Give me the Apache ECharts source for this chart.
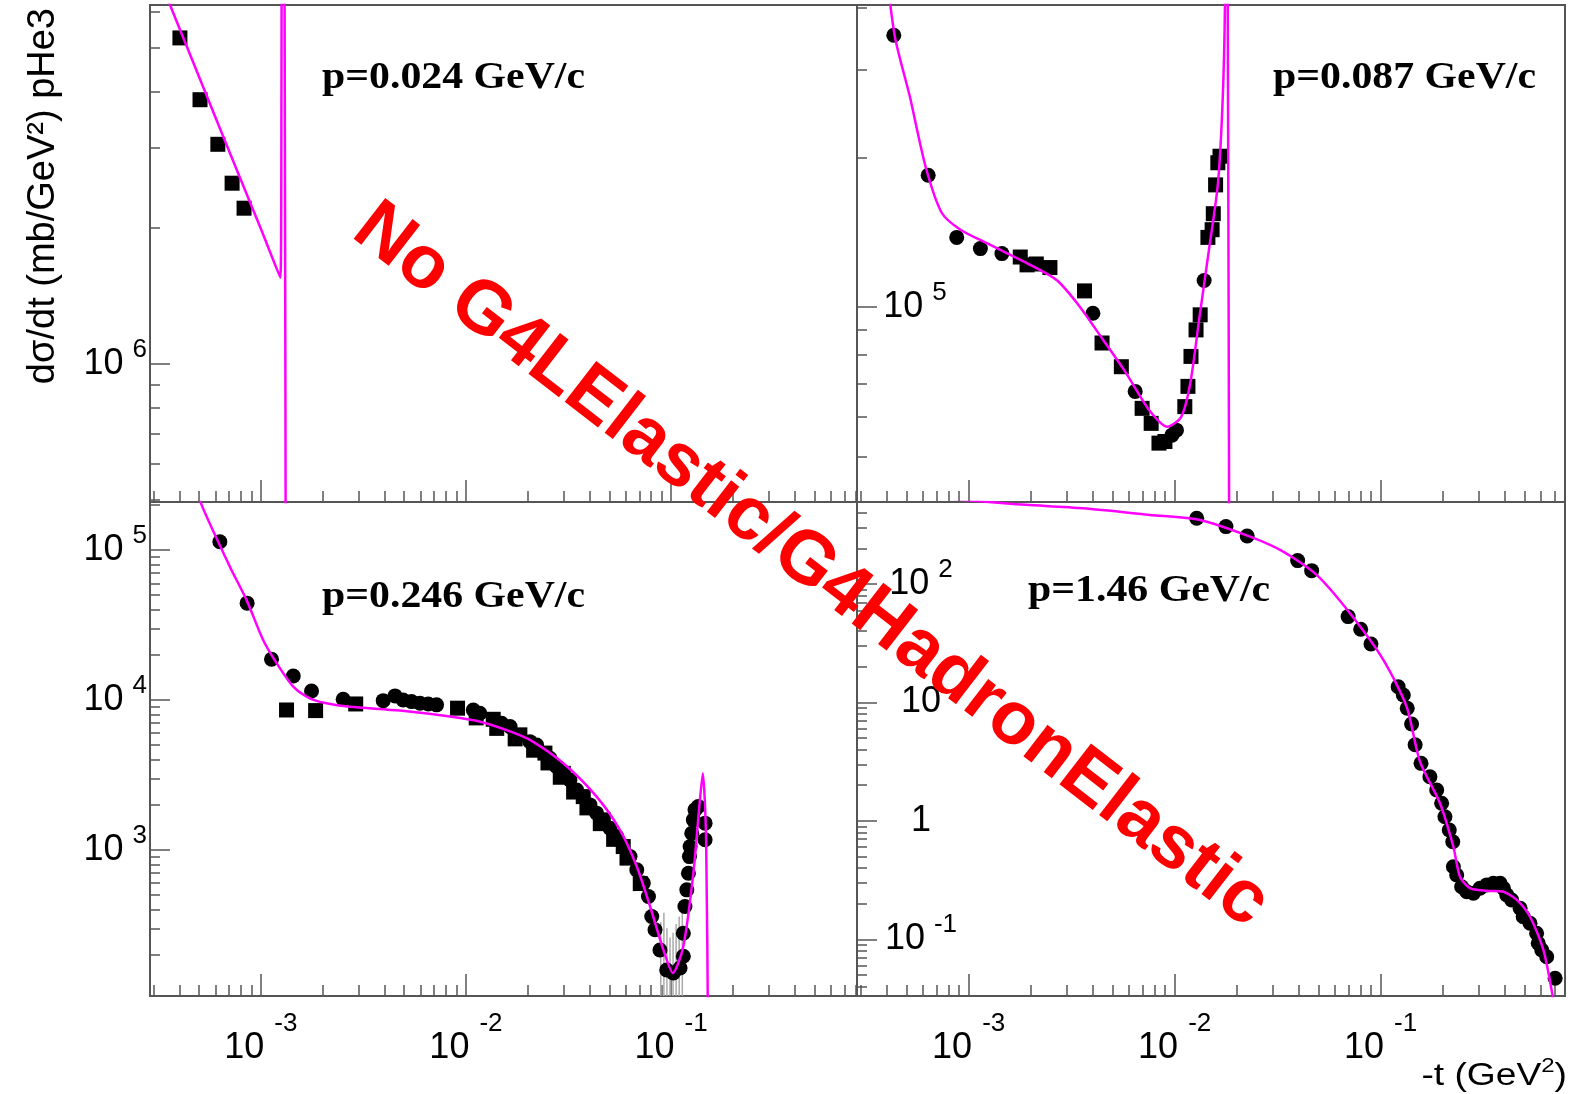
<!DOCTYPE html>
<html><head><meta charset="utf-8">
<script src="https://cdn.jsdelivr.net/npm/echarts@6/dist/echarts.min.js"></script>
<style>html,body{margin:0;padding:0;background:#fff}#c{width:1571px;height:1094px}</style>
</head><body><div id="c"></div>
<script>
// ---------- axis ranges ----------
const xRangeLeft = [2.88e-4, 0.807];
const xRangeRight = [2.87e-4, 0.785];
const yRangeTL = [4.95e5, 6.22e6];
const yRangeTR = [4.05e4, 4.05e5];
const yRangeBL = [106, 2.09e5];
const yRangeBR = [0.0332, 493];

// ---------- tick values ----------
const xMajorTicks = [1e-3, 1e-2, 1e-1];
const xMinorTicks = [3e-4,4e-4,5e-4,6e-4,7e-4,8e-4,9e-4,
  2e-3,3e-3,4e-3,5e-3,6e-3,7e-3,8e-3,9e-3,
  2e-2,3e-2,4e-2,5e-2,6e-2,7e-2,8e-2,9e-2,
  0.2,0.3,0.4,0.5,0.6,0.7,0.8];
const yMajorTL = [1e6];
const yMinorTL = [5e5,6e5,7e5,8e5,9e5,2e6,3e6,4e6,5e6,6e6];
const yMajorTR = [1e5];
const yMinorTR = [5e4,6e4,7e4,8e4,9e4,2e5,3e5,4e5];
const yMajorBL = [1e3, 1e4, 1e5];
const yMinorBL = [200,300,400,500,600,700,800,900,2e3,3e3,4e3,5e3,6e3,7e3,8e3,9e3,2e4,3e4,4e4,5e4,6e4,7e4,8e4,9e4,2e5];
const yMajorBR = [0.1, 1, 10, 100];
const yMinorBR = [0.04,0.05,0.06,0.07,0.08,0.09,0.2,0.3,0.4,0.5,0.6,0.7,0.8,0.9,2,3,4,5,6,7,8,9,20,30,40,50,60,70,80,90,200,300,400];

// ---------- panel labels ----------
const panelLabels = ['p=0.024 GeV/c', 'p=0.087 GeV/c', 'p=0.246 GeV/c', 'p=1.46 GeV/c'];

// ---------- p = 0.024 GeV/c ----------
const tlSquares = [[4.03e-4,5.26e6],[5.05e-4,3.84e6],[6.17e-4,3.06e6],[7.24e-4,2.51e6],[8.28e-4,2.21e6]];
const tlCurve = [[2.82e-4,8.2e6],[3.98e-4,5.57e6],[5.62e-4,3.78e6],[7.94e-4,2.57e6],[1.0e-3,1.99e6],[1.245e-3,1.55e6],
  [1.26e-3,4.0e6],[1.268e-3,2.0e7],[1.29e-3,2.0e7],[1.31e-3,3.0e6],[1.325e-3,2.0e5]];

// ---------- p = 0.087 GeV/c ----------
const trCircles = [[4.33e-4,3.52e5],[6.36e-4,1.84e5],[8.75e-4,1.38e5],[1.14e-3,1.31e5],[1.45e-3,1.28e5],
  [4.01e-3,9.71e4],[6.43e-3,6.76e4],[9.70e-3,5.52e4],[1.02e-2,5.65e4],[1.39e-2,1.13e5]];
const trSquares = [[1.78e-3,1.26e5],[1.92e-3,1.215e5],[2.13e-3,1.22e5],[2.48e-3,1.20e5],[3.65e-3,1.077e5],
  [4.44e-3,8.46e4],[5.51e-3,7.58e4],[6.95e-3,6.25e4],[7.69e-3,5.83e4],[8.39e-3,5.32e4],[8.97e-3,5.36e4],
  [1.12e-2,6.30e4],[1.16e-2,6.92e4],[1.20e-2,7.95e4],[1.27e-2,8.99e4],[1.33e-2,9.64e4],[1.45e-2,1.38e5],
  [1.52e-2,1.43e5],[1.54e-2,1.54e5],[1.58e-2,1.76e5],[1.62e-2,1.95e5],[1.66e-2,2.01e5]];
const trCurve = [[3.80e-4,5.62e5],[4.37e-4,3.52e5],[5.18e-4,2.65e5],[6.19e-4,1.91e5],[7.41e-4,1.545e5],
  [9.12e-4,1.43e5],[1.24e-3,1.34e5],[2.07e-3,1.205e5],[2.69e-3,1.13e5],[3.47e-3,1.0e5],[4.49e-3,8.59e4],
  [5.81e-3,7.36e4],[7.50e-3,6.21e4],[9.23e-3,5.74e4],[1.076e-2,6.01e4],[1.19e-2,7.01e4],[1.32e-2,9.55e4],
  [1.466e-2,1.30e5],[1.622e-2,1.77e5],[1.71e-2,2.61e5],[1.754e-2,4.02e5],[1.778e-2,1.0e6],[1.81e-2,4.0e5],[1.845e-2,2.0e4]];

// ---------- p = 0.246 GeV/c ----------
const blCircles = [[6.31e-4,1.135e5],[8.57e-4,4.42e4],[1.127e-3,1.866e4],[1.439e-3,1.445e4],[1.766e-3,1.148e4],
  [2.52e-3,1.01e4],[3.95e-3,9.89e3],[4.51e-3,1.064e4],[4.94e-3,1.0e4],[5.43e-3,9.75e3],[5.97e-3,9.51e3],
  [6.55e-3,9.40e3],[7.19e-3,9.27e3],[1.086e-2,8.57e3],[1.169e-2,8.15e3],[1.493e-2,6.98e3],[1.641e-2,6.64e3],
  [2.051e-2,5.27e3],[2.213e-2,5.01e3],[2.57e-2,4.08e3],[2.767e-2,3.59e3],[3.214e-2,2.93e3],[3.467e-2,2.51e3],
  [4.027e-2,1.995e3],[4.335e-2,1.758e3],[5.035e-2,1.393e3],[5.433e-2,1.227e3],[6.31e-2,902],[6.808e-2,736],
  [7.328e-2,600],[7.762e-2,489],[8.054e-2,359],[8.356e-2,293],[8.831e-2,215],[9.528e-2,158],[1.026e-1,151],
  [1.107e-1,163],[1.148e-1,195],[1.148e-1,278],[1.169e-1,419],[1.194e-1,541],[1.216e-1,698],[1.23e-1,902],
  [1.239e-1,1052],[1.262e-1,1291],[1.285e-1,1585],[1.309e-1,1849],[1.358e-1,1945],[1.466e-1,1507],[1.466e-1,1167]];
const blSquares = [[1.334e-3,8.57e3],[1.849e-3,8.49e3],[2.90e-3,9.40e3],[9.1e-3,8.81e3],[1.122e-2,7.59e3],
  [1.358e-2,7.43e3],[1.413e-2,6.46e3],[1.738e-2,5.50e3],[1.832e-2,5.85e3],[2.138e-2,4.62e3],[2.427e-2,4.42e3],
  [2.512e-2,3.80e3],[2.884e-2,3.05e3],[2.985e-2,3.24e3],[3.35e-2,2430],[3.733e-2,2265],[3.89e-2,1905],
  [4.52e-2,1496],[4.677e-2,1585],[5.25e-2,1175],[5.848e-2,1052],[6.1e-2,881],[7.08e-2,596]];
const blCurve = [[4.79e-4,2.82e5],[5.14e-4,2.0e5],[7.06e-4,7.74e4],[8.51e-4,4.65e4],[1.026e-3,2.51e4],
  [1.194e-3,1.758e4],[1.439e-3,1.227e4],[1.734e-3,1.026e4],[2.089e-3,9.51e3],[2.716e-3,9.02e3],[4.76e-3,8.49e3],
  [8.36e-3,7.74e3],[1.2e-2,7.1e3],[1.641e-2,6.17e3],[2.051e-2,5.41e3],[2.985e-2,3.78e3],[4.335e-2,2265],
  [5.636e-2,1358],[6.808e-2,774],[7.907e-2,419],[9.18e-2,215],[1.021e-1,151],[1.148e-1,227],[1.285e-1,698],
  [1.374e-1,1945],[1.429e-1,3240],[1.483e-1,1167],[1.52e-1,31.6]];
const blErrX = [8.91e-2, 9.23e-2, 9.55e-2, 9.89e-2, 1.023e-1, 1.059e-1, 1.096e-1, 1.135e-1];
const blErrLow = [60, 60, 60, 60, 60, 60, 60, 60];
const blErrHigh = [330, 380, 300, 260, 280, 320, 360, 420];

// ---------- p = 1.46 GeV/c ----------
const brCircles = [[1.279e-2,359.7],[1.774e-2,305.5],[2.249e-2,254.7],[3.954e-2,157.8],[4.624e-2,129.7],
  [6.95e-2,53.1],[7.998e-2,41.5],[8.974e-2,31.2],[1.216e-1,13.58],[1.288e-1,11.56],[1.346e-1,8.93],
  [1.413e-1,6.58],[1.47e-1,4.4],[1.57e-1,3.06],[1.734e-1,2.36],[1.871e-1,1.824],[1.977e-1,1.409],
  [2.051e-1,1.084],[2.153e-1,0.838],[2.239e-1,0.667],[2.254e-1,0.410],[2.339e-1,0.349],[2.472e-1,0.278],
  [2.618e-1,0.252],[2.818e-1,0.245],[3.034e-1,0.270],[3.273e-1,0.288],[3.524e-1,0.297],[3.802e-1,0.297],
  [3.945e-1,0.270],[4.093e-1,0.237],[4.325e-1,0.215],[4.753e-1,0.183],[4.92e-1,0.155],[5.309e-1,0.1365],
  [5.715e-1,0.1125],[5.821e-1,0.0925],[6.053e-1,0.0813],[6.397e-1,0.0713],[7.031e-1,0.0469]];
const brCurve = [[5.01e-4,562],[1.648e-3,474],[3.597e-3,436.5],[7.586e-3,383.7],[1.327e-2,347.5],
  [2.323e-2,251.2],[3.365e-2,187.9],[4.887e-2,119.4],[7.096e-2,56.6],[1.03e-1,22.9],[1.337e-1,9.23],
  [1.552e-1,3.16],[1.941e-1,1.409],[2.254e-1,0.605],[2.427e-1,0.338],[2.716e-1,0.270],[3.273e-1,0.257],
  [3.945e-1,0.252],[4.581e-1,0.215],[5.309e-1,0.155],[6.166e-1,0.0813],[6.887e-1,0.0309]];

// ---------- build chart ----------
const FONT = 'Liberation Sans';
const FRAME = '#555';
const panels = [
  {left:150, top:5, width:707, height:497, xr:xRangeLeft, yr:yRangeTL, yMaj:yMajorTL, yMin:yMinorTL, xLabels:false, inside:false},
  {left:857, top:5, width:708, height:497, xr:xRangeRight, yr:yRangeTR, yMaj:yMajorTR, yMin:yMinorTR, xLabels:false, inside:true, lm:58},
  {left:150, top:502, width:707, height:494, xr:xRangeLeft, yr:yRangeBL, yMaj:yMajorBL, yMin:yMinorBL, xLabels:true, inside:false},
  {left:857, top:502, width:708, height:494, xr:xRangeRight, yr:yRangeBR, yMaj:yMajorBR, yMin:yMinorBR, xLabels:true, inside:true, lm:64}
];
function fmtLog(v){
  const e = Math.round(Math.log10(v));
  if (e === 0) return '{a|1}';
  if (e === 1) return '{a|10}';
  return '{a|10}{s|' + e + '}';
}
const xRich = {
  a:{fontSize:36, fontFamily:FONT, color:'#000'},
  s:{fontSize:26, fontFamily:FONT, color:'#000', padding:[0,0,48,10]}
};
const yRich = {
  a:{fontSize:36, fontFamily:FONT, color:'#000'},
  s:{fontSize:26, fontFamily:FONT, color:'#000', padding:[0,0,28,9]}
};
const tickStyle = {color:FRAME, width:1.5};
const grids = [], xAxes = [], yAxes = [];
panels.forEach((p, i) => {
  grids.push({left:p.left, top:p.top, width:p.width, height:p.height, show:true,
    borderColor:FRAME, borderWidth:2, backgroundColor:'transparent', containLabel:false, outerBoundsMode:'none'});
  xAxes.push({type:'log', gridIndex:i, min:p.xr[0], max:p.xr[1], position:'bottom',
    axisLine:{show:false}, splitLine:{show:false},
    axisTick:{show:true, inside:true, length:22, customValues:xMajorTicks, lineStyle:tickStyle},
    axisLabel:{show:p.xLabels, customValues:xMajorTicks, formatter:fmtLog, rich:xRich, margin:15, verticalAlign:'top'}});
  xAxes.push({type:'log', gridIndex:i, min:p.xr[0], max:p.xr[1], position:'bottom',
    axisLine:{show:false}, splitLine:{show:false},
    axisTick:{show:true, inside:true, length:11, customValues:xMinorTicks, lineStyle:tickStyle},
    axisLabel:{show:false}});
  const lab = {show:true, customValues:p.yMaj, formatter:fmtLog, rich:yRich};
  if (p.inside) { lab.inside = true; lab.margin = p.lm; lab.align = 'center'; }
  else { lab.margin = 3; lab.align = 'right'; }
  yAxes.push({type:'log', gridIndex:i, min:p.yr[0], max:p.yr[1], position:'left',
    axisLine:{show:false}, splitLine:{show:false},
    axisTick:{show:true, inside:true, length:20, customValues:p.yMaj, lineStyle:tickStyle},
    axisLabel:lab});
  yAxes.push({type:'log', gridIndex:i, min:p.yr[0], max:p.yr[1], position:'left',
    axisLine:{show:false}, splitLine:{show:false},
    axisTick:{show:true, inside:true, length:10, customValues:p.yMin, lineStyle:tickStyle},
    axisLabel:{show:false}});
});

function pts(name, idx, data, symbol){
  return {name, type:'scatter', xAxisIndex:2*idx, yAxisIndex:2*idx, data, symbol, symbolSize:15,
    itemStyle:{color:'#000', opacity:1}, clip:true, z:3, silent:true};
}
function curve(name, idx, data){
  return {name, type:'line', xAxisIndex:2*idx, yAxisIndex:2*idx, data, showSymbol:false, symbol:'none',
    smooth:0.25, lineStyle:{color:'#ff00ff', width:2.5}, clip:true, z:5, silent:true};
}
const series = [
  pts('tl squares', 0, tlSquares, 'rect'),
  curve('tl model', 0, tlCurve),
  pts('tr circles', 1, trCircles, 'circle'),
  pts('tr squares', 1, trSquares, 'rect'),
  curve('tr model', 1, trCurve),
  {name:'bl errors', type:'custom', xAxisIndex:4, yAxisIndex:4, clip:true, z:2, silent:true,
    data: blErrX.map((x, k) => [x, blErrLow[k], blErrHigh[k]]),
    encode:{x:0, y:[1,2]},
    renderItem:function(params, api){
      const a = api.coord([api.value(0), api.value(1)]);
      const b = api.coord([api.value(0), api.value(2)]);
      return {type:'line', shape:{x1:a[0], y1:a[1], x2:b[0], y2:b[1]}, style:{stroke:'#aaa', lineWidth:1.5}};
    }},
  pts('bl circles', 2, blCircles, 'circle'),
  pts('bl squares', 2, blSquares, 'rect'),
  curve('bl model', 2, blCurve),
  pts('br circles', 3, brCircles, 'circle'),
  curve('br model', 3, brCurve)
];

const pPos = [[322, 78], [1273, 78], [322, 597], [1028, 591]];
const graphic = [];
panelLabels.forEach((t, i) => {
  graphic.push({type:'text', x:pPos[i][0], y:pPos[i][1], scaleX:1.1, z:50,
    style:{text:t, font:'bold 38px "Liberation Serif"', fill:'#000', align:'left', verticalAlign:'middle'}});
});
graphic.push({type:'text', x:44, y:8, rotation:Math.PI/2, z:50,
  style:{text:'d\u03C3/dt (mb/GeV\u00B2) pHe3', font:'38px "Liberation Sans"', fill:'#000', align:'right', verticalAlign:'middle'}});
graphic.push({type:'text', x:1567, y:1076, scaleX:1.2, z:50,
  style:{text:'{a|-t (GeV}{s|2}{a|)}', align:'right', verticalAlign:'middle',
    rich:{a:{fontSize:31, fontFamily:FONT, fill:'#000'},
          s:{fontSize:20, fontFamily:FONT, fill:'#000', padding:[0,0,20,0]}}}});
graphic.push({type:'text', x:811, y:566, rotation:-37.7*Math.PI/180, z:100,
  style:{text:'No G4LElastic/G4HadronElastic', font:'bold 75px "Liberation Sans"', fill:'#ff0000', align:'center', verticalAlign:'middle'}});

const chart = echarts.init(document.getElementById('c'), null, {renderer:'canvas'});
chart.setOption({
  animation:false,
  backgroundColor:'#fff',
  grid:grids, xAxis:xAxes, yAxis:yAxes, series, graphic
});
</script></body></html>
